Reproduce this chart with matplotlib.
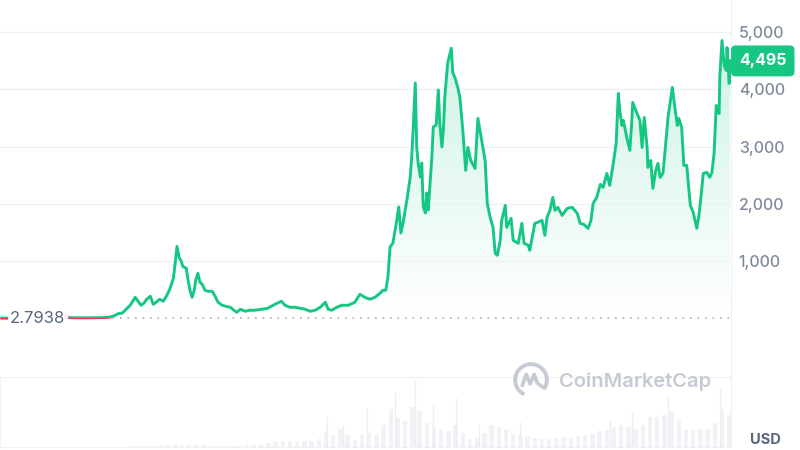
import numpy as np
import matplotlib.pyplot as plt
from matplotlib.colors import LinearSegmentedColormap
from matplotlib.patches import Rectangle, Arc
from matplotlib.transforms import blended_transform_factory

plt.rcParams['font.family'] = ['Inter', 'DejaVu Sans']

# price history (decimal year, USD)
years = [2015.60, 2015.68, 2015.78, 2015.88, 2015.99, 2016.07, 2016.20, 2016.34, 2016.48, 2016.61,
         2016.75, 2016.89, 2017.03, 2017.10, 2017.17, 2017.21, 2017.27, 2017.31, 2017.38, 2017.45,
         2017.49, 2017.53, 2017.57, 2017.61, 2017.66, 2017.70, 2017.74, 2017.79, 2017.84, 2017.89,
         2017.93, 2017.98, 2018.00, 2018.03, 2018.06, 2018.09, 2018.11, 2018.16, 2018.18, 2018.21,
         2018.24, 2018.27, 2018.29, 2018.32, 2018.35, 2018.38, 2018.42, 2018.46, 2018.52, 2018.56,
         2018.60, 2018.66, 2018.71, 2018.77, 2018.82, 2018.86, 2018.91, 2018.98, 2019.04, 2019.11,
         2019.21, 2019.29, 2019.39, 2019.48, 2019.53, 2019.60, 2019.67, 2019.74, 2019.81, 2019.88,
         2019.95, 2020.02, 2020.09, 2020.13, 2020.18, 2020.25, 2020.32, 2020.41, 2020.50, 2020.57,
         2020.64, 2020.71, 2020.78, 2020.85, 2020.89, 2020.93, 2020.96, 2020.99, 2021.03, 2021.09,
         2021.11, 2021.14, 2021.17, 2021.23, 2021.27, 2021.29, 2021.31, 2021.34, 2021.36, 2021.38,
         2021.41, 2021.43, 2021.45, 2021.48, 2021.50, 2021.52, 2021.57, 2021.59, 2021.63, 2021.66,
         2021.68, 2021.71, 2021.73, 2021.75, 2021.79, 2021.84, 2021.86, 2021.89, 2021.93, 2021.96,
         2022.00, 2022.04, 2022.07, 2022.11, 2022.17, 2022.21, 2022.27, 2022.31, 2022.34, 2022.38,
         2022.42, 2022.45, 2022.48, 2022.52, 2022.54, 2022.59, 2022.61, 2022.67, 2022.70, 2022.77,
         2022.82, 2022.85, 2022.91, 2022.93, 2023.00, 2023.04, 2023.10, 2023.14, 2023.17, 2023.21,
         2023.25, 2023.28, 2023.32, 2023.38, 2023.45, 2023.52, 2023.59, 2023.63, 2023.68, 2023.74,
         2023.78, 2023.81, 2023.86, 2023.91, 2023.95, 2024.00, 2024.04, 2024.09, 2024.13, 2024.16,
         2024.18, 2024.21, 2024.23, 2024.28, 2024.32, 2024.35, 2024.36, 2024.42, 2024.46, 2024.49,
         2024.52, 2024.56, 2024.57, 2024.61, 2024.64, 2024.68, 2024.71, 2024.74, 2024.78, 2024.81,
         2024.85, 2024.91, 2024.95, 2024.98, 2025.00, 2025.04, 2025.07, 2025.11, 2025.16, 2025.20,
         2025.25, 2025.28, 2025.31, 2025.34, 2025.39, 2025.43, 2025.46, 2025.49, 2025.52, 2025.53,
         2025.56, 2025.57, 2025.60, 2025.63, 2025.66, 2025.67, 2025.70, 2025.71]
price = [2.79, 1.2, 0.9, 0.95, 1.0, 5, 12, 11, 12, 9,
         8, 10, 13, 20, 50, 80, 90, 140, 227, 366,
         297, 227, 262, 332, 384, 244, 279, 332, 297, 401,
         506, 698, 907, 1256, 1064, 995, 907, 872, 698, 489,
         366, 489, 663, 785, 628, 593, 489, 471, 471, 384,
         279, 227, 209, 192, 140, 105, 157, 122, 140, 140,
         157, 174, 244, 297, 227, 192, 192, 174, 157, 122,
         140, 192, 279, 157, 140, 192, 227, 227, 279, 419,
         366, 332, 366, 436, 489, 489, 720, 1245, 1315, 1769,
         1944, 1490, 1665, 2119, 2468, 2817, 3289, 4110, 2992, 2712,
         2468, 2712, 1944, 1839, 2188, 1891, 2817, 3341, 3376, 3987,
         3411, 2992, 3289, 3865, 4459, 4717, 4293, 4205, 4031, 3856,
         3281, 2583, 2984, 2757, 2618, 3490, 3054, 2757, 2007, 1762,
         1588, 1134, 1099, 1361, 1710, 1972, 1588, 1745, 1361, 1309,
         1658, 1309, 1274, 1187, 1658, 1675, 1710, 1448, 1762, 1885,
         2111, 1885, 1937, 1797, 1920, 1937, 1832, 1658, 1640, 1571,
         1710, 2007, 2111, 2338, 2286, 2530, 2321, 2705, 3054, 3926,
         3630, 3368, 3455, 3141, 2932, 3507, 3769, 3577, 3455, 2984,
         3507, 2984, 2635, 2757, 2268, 2583, 2705, 2460, 2530, 2932,
         3507, 4031, 3630, 3368, 3490, 3333, 2670, 2670, 1972, 1850,
         1571, 1797, 2146, 2530, 2548, 2460, 2548, 2879, 3717, 3630,
         3577, 4240, 4851, 4415, 4328, 4729, 4101, 4495]

start_price = 2.7938
last_price = 4495
price_ticks = [1000, 2000, 3000, 4000, 5000]

# trading volume (relative heights), one value every 0.1 year from mid-2015
vol_start = 2015.6
vol_step = 0.1
volume = [0, 0, 0, 0, 0, 0, 0, 0, 0, 0, 0, 0, 0, 0, 0, 0, 0,
          0.5, 1, 1.5, 1, 1, 1.5, 2, 3, 2.5, 2, 2, 2, 1.5, 1.5, 1.5, 1.5, 1.5,
          2, 2, 3, 4, 5, 6, 5, 5, 6, 6, 8, 16, 12, 18, 12, 7, 12, 14, 12, 22,
          38, 30, 26, 40, 36, 24, 20, 18, 16, 22, 14, 8, 9, 14, 22, 20, 18, 13,
          12, 11, 9, 8, 8, 9, 10, 9, 11, 12, 13, 16, 17, 20, 22, 20, 18, 22,
          30, 30, 32, 36, 26, 18, 17, 18, 18, 24, 38, 32]
spike_years = [2020.11, 2020.34, 2020.67, 2021.06, 2021.34, 2021.59, 2021.91,
               2022.22, 2022.79, 2024.04, 2024.35, 2024.85, 2025.57]
spike_vol = [30, 22, 39, 54, 66, 42, 49, 22, 25, 27, 35, 50, 58]

green = '#16c784'
red = '#ea3943'
grid_c = '#eff2f5'
text_c = '#808a9d'

fig = plt.figure(figsize=(8, 4.5), dpi=100)
ax = fig.add_axes([0, 73 / 450, 731 / 800, 377 / 450])
vax = fig.add_axes([0, 3 / 450, 731 / 800, 70 / 450])

x0, x1 = 2015.572, 2025.725
y0, y1 = -1026, 5559

# gradient fill under the price line
cmap = LinearSegmentedColormap.from_list('fade', [(0.086, 0.78, 0.52, 0.0), (0.086, 0.78, 0.52, 0.22)])
grad = np.linspace(0, 1, 256).reshape(-1, 1)
im = ax.imshow(grad, extent=[x0, x1, 0, 5000], origin='lower', aspect='auto', cmap=cmap, zorder=1)
poly = ax.fill_between(years, price, 0, color='none', lw=0)
im.set_clip_path(poly.get_paths()[0], ax.transData)

# baseline at the first price
ax.plot([x0, x1], [start_price, start_price], color='#a6b0c3', lw=1.2, ls=(0, (1, 3.5)), zorder=2)

up, = ax.plot(years, price, color=green, lw=2.1, zorder=3, solid_joinstyle='round')
up.set_clip_path(Rectangle((x0, start_price), x1 - x0, 10000, transform=ax.transData))
down, = ax.plot(years, price, color=red, lw=2.1, zorder=3, solid_joinstyle='round')
down.set_clip_path(Rectangle((x0, -5000), x1 - x0, 5000 + start_price, transform=ax.transData))

ax.set_xlim(x0, x1)
ax.set_ylim(y0, y1)
ax.set_xticks([])
ax.yaxis.tick_right()
ax.set_yticks(price_ticks)
ax.set_yticklabels([f'{v:,}' for v in price_ticks])
ax.tick_params(axis='y', length=0, pad=5.5, labelsize=11.5, labelcolor=text_c)
for lab in ax.get_yticklabels():
    lab.set_fontweight('medium')
ax.grid(axis='y', color=grid_c, lw=1)
for s in ['top', 'left']:
    ax.spines[s].set_visible(False)
for s in ['right', 'bottom']:
    ax.spines[s].set_color(grid_c)

# first price label on the left
ax.text(10 / 731, start_price, f'{start_price}', transform=blended_transform_factory(ax.transAxes, ax.transData),
        ha='left', va='center', fontsize=12, color='#58667e', zorder=5,
        bbox=dict(boxstyle='square,pad=0.15', fc='white', ec='none'))

# current price badge
ax.text(1 + 8 / 731, last_price, f'{last_price:,}', transform=blended_transform_factory(ax.transAxes, ax.transData),
        ha='left', va='center', fontsize=11.5, color='white', weight='bold', zorder=6, clip_on=False,
        bbox=dict(boxstyle='round,pad=0.5,rounding_size=0.3', fc=green, ec='none'))

# volume panel
vyears = [vol_start + i * vol_step for i in range(len(volume))]
vax.bar(vyears, volume, width=0.06, color='#f0f2f5', lw=0)
vax.vlines(spike_years, 0, spike_vol, color='#eceef2', lw=1.0)
vax.set_xlim(x0, x1)
vax.set_ylim(0, 70)
vax.set_xticks([])
vax.set_yticks([])
for s in vax.spines.values():
    s.set_color(grid_c)
vax.patch.set_alpha(0)

# watermark
fig.text(559 / 800, 1 - 382 / 450, 'CoinMarketCap', ha='left', va='center', fontsize=14.5,
         color='#c5cad4', weight='semibold')
lax = fig.add_axes([512 / 800, 1 - 399 / 450, 38 / 800, 38 / 450])
lax.set_xlim(-1.2, 1.2)
lax.set_ylim(-1.2, 1.2)
lax.set_aspect('equal')
lax.axis('off')
lax.add_patch(Arc((0, 0), 2.0, 2.0, theta1=-35, theta2=245, color='#c5cad4', lw=2.8))
lax.plot([-0.55, -0.3, -0.05, 0.2, 0.4, 0.82], [-0.35, 0.35, -0.25, 0.35, -0.2, -0.5],
         color='#c5cad4', lw=2.6, solid_joinstyle='round', solid_capstyle='round')

fig.text(765 / 800, 1 - 440 / 450, 'USD', ha='center', va='center', fontsize=10.5, weight='bold', color='#58667e')

fig.savefig('out.png', dpi=100)
